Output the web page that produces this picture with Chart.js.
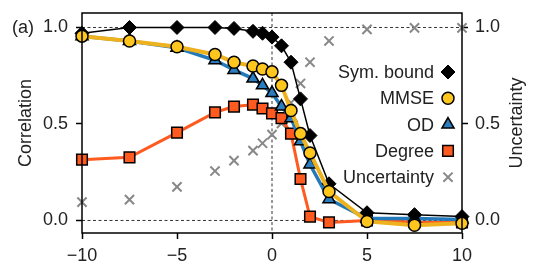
<!DOCTYPE html>
<html>
<head>
<meta charset="utf-8">
<script src="https://cdn.jsdelivr.net/npm/chart.js@4"></script>
<style>
  html, body { margin: 0; padding: 0; background: #fff; }
  #wrap { width: 538px; height: 266px; position: relative; }
</style>
</head>
<body>
<div id="wrap"><canvas id="c" width="538" height="266"></canvas></div>
<script>
// ---- data ----
const xValues = [-10, -7.5, -5, -3, -2, -1, -0.5, 0, 0.5, 1, 1.5, 2, 3, 5, 7.5, 10];
const symBound = [0.97, 1.0, 1.0, 1.0, 0.995, 0.98, 0.97, 0.95, 0.905, 0.82, 0.63, 0.44, 0.19, 0.04, 0.03, 0.02];
const mmse = [0.955, 0.93, 0.90, 0.86, 0.82, 0.80, 0.785, 0.77, 0.70, 0.57, 0.45, 0.35, 0.15, -0.005, -0.025, -0.015];
const od = [0.955, 0.93, 0.895, 0.83, 0.78, 0.735, 0.70, 0.66, 0.59, 0.53, 0.41, 0.29, 0.11, 0.01, 0.01, 0.005];
const degree = [0.315, 0.327, 0.455, 0.56, 0.59, 0.60, 0.58, 0.555, 0.53, 0.45, 0.215, 0.02, -0.01, 0.0, -0.008, -0.01];
const uncertainty = [0.095, 0.108, 0.174, 0.256, 0.31, 0.362, 0.40, 0.445, 0.503, 0.61, 0.71, 0.82, 0.93, 0.99, 0.998, 0.998];

const xTicks = [-10, -5, 0, 5, 10];
const yTicks = [0, 0.5, 1];
const refLinesY = [0, 1];
const refLinesX = [0];
const seriesNames = ['Sym. bound', 'MMSE', 'OD', 'Degree', 'Uncertainty'];
const panelLabel = '(a)';
const leftTitle = 'Correlation';
const rightTitle = 'Uncertainty';

const FONT = '"Liberation Sans", Arial, sans-serif';
const FS = 18;
const TXT = '#222';

const pts = arr => xValues.map((x, i) => ({ x, y: arr[i] }));

const datasets = [
  { label: 'MMSE', data: pts(mmse), borderColor: '#EDB21E', borderWidth: 4,
    pointStyle: 'circle', pointRadius: 6, pointBackgroundColor: '#FFC61E',
    pointBorderColor: '#000', pointBorderWidth: 1.5, yAxisID: 'y' },
  { label: 'Sym. bound', data: pts(symBound), borderColor: '#000', borderWidth: 1.5,
    pointStyle: 'rectRot', pointRadius: 7, pointBackgroundColor: '#000',
    pointBorderColor: '#000', pointBorderWidth: 1, yAxisID: 'y' },
  { label: 'OD', data: pts(od), borderColor: '#2479B8', borderWidth: 3.5,
    pointStyle: 'triangle', pointRadius: 7, pointBackgroundColor: '#2A7DBE',
    pointBorderColor: '#000', pointBorderWidth: 1.5, yAxisID: 'y' },
  { label: 'Degree', data: pts(degree), borderColor: '#FF5A1F', borderWidth: 3,
    pointStyle: 'rect', pointRadius: 7.5, pointBackgroundColor: '#FF5A1F',
    pointBorderColor: '#000', pointBorderWidth: 1.5, yAxisID: 'y' },
  { label: 'Uncertainty', data: pts(uncertainty), showLine: false, borderColor: '#888',
    pointStyle: 'crossRot', pointRadius: 6.5, pointBackgroundColor: '#888',
    pointBorderColor: '#888', pointBorderWidth: 2, yAxisID: 'y2' }
];
datasets.forEach(d => { d.clip = false; d.tension = 0; d.fill = false; d.pointHoverRadius = d.pointRadius; });

const framePlugin = {
  id: 'frame',
  beforeDatasetsDraw(chart) {
    const { ctx, chartArea: a, scales } = chart;
    ctx.save();
    ctx.strokeStyle = '#333';
    ctx.lineWidth = 1;
    ctx.setLineDash([3, 2.5]);
    refLinesY.forEach(v => {
      const y = scales.y.getPixelForValue(v);
      ctx.beginPath(); ctx.moveTo(a.left, y); ctx.lineTo(a.right, y); ctx.stroke();
    });
    refLinesX.forEach(v => {
      const x = scales.x.getPixelForValue(v);
      ctx.beginPath(); ctx.moveTo(x, a.top); ctx.lineTo(x, a.bottom); ctx.stroke();
    });
    ctx.restore();
  },
  afterDraw(chart) {
    const { ctx, chartArea: a } = chart;
    ctx.save();
    ctx.strokeStyle = '#000';
    ctx.lineWidth = 1.5;
    ctx.setLineDash([]);
    ctx.strokeRect(a.left, a.top, a.right - a.left, a.bottom - a.top);

    ctx.fillStyle = TXT;
    ctx.font = FS + 'px ' + FONT;
    ctx.textBaseline = 'middle';

    // panel label
    ctx.textAlign = 'left';
    ctx.fillText(panelLabel, 12, chart.scales.y.getPixelForValue(1) + 1);

    // axis titles (both read bottom-to-top)
    const cy = (a.top + a.bottom) / 2;
    ctx.textAlign = 'center';
    [[leftTitle, 26], [rightTitle, 517]].forEach(([t, x]) => {
      ctx.save();
      ctx.translate(x, cy);
      ctx.rotate(-Math.PI / 2);
      ctx.fillText(t, 0, 0);
      ctx.restore();
    });

    // legend (text then marker on the right)
    const textRight = a.right - 28;
    const markerX = a.right - 14;
    seriesNames.forEach((name, i) => {
      const ds = chart.data.datasets.find(d => d.label === name);
      const y = a.top + 59 + i * 26.3;
      ctx.fillStyle = TXT;
      ctx.textAlign = 'right';
      ctx.textBaseline = 'middle';
      ctx.font = FS + 'px ' + FONT;
      ctx.fillText(name, textRight, y + 1);
      ctx.fillStyle = ds.pointBackgroundColor;
      ctx.strokeStyle = ds.pointBorderColor;
      ctx.lineWidth = ds.pointBorderWidth;
      Chart.helpers.drawPoint(ctx, { pointStyle: ds.pointStyle, radius: ds.pointRadius, rotation: 0, borderWidth: ds.pointBorderWidth }, markerX, y);
    });
    ctx.restore();
  }
};

const tickFont = { family: FONT, size: FS };
const gridCommon = { drawOnChartArea: false, drawTicks: true, tickLength: 6, tickColor: '#000', tickWidth: 1.5, color: '#000' };
const zeroPad = s => { s.paddingTop = 0; s.paddingBottom = 0; s.paddingLeft = 0; s.paddingRight = 0; };

new Chart(document.getElementById('c'), {
  type: 'line',
  data: { datasets },
  plugins: [framePlugin],
  options: {
    responsive: false,
    animation: false,
    events: [],
    layout: { padding: { top: 13, left: 0, right: 0, bottom: 0 } },
    plugins: { legend: { display: false }, tooltip: { enabled: false } },
    scales: {
      x: {
        type: 'linear', min: -10, max: 10,
        afterBuildTicks: s => { s.ticks = xTicks.map(v => ({ value: v })); },
        afterFit: s => { s.height = 33; zeroPad(s); },
        ticks: { font: tickFont, color: TXT, padding: 6, maxRotation: 0,
          callback: v => (v < 0 ? '\u2212' + Math.abs(v) : String(v)) },
        grid: gridCommon,
        border: { display: false }
      },
      y: {
        type: 'linear', position: 'left', min: -0.065, max: 1.075,
        afterBuildTicks: s => { s.ticks = yTicks.map(v => ({ value: v })); },
        afterFit: s => { s.width = 82; zeroPad(s); },
        ticks: { font: tickFont, color: TXT, padding: 8, callback: v => Number(v).toFixed(1) },
        grid: gridCommon,
        border: { display: false }
      },
      y2: {
        type: 'linear', position: 'right', min: -0.065, max: 1.075,
        afterBuildTicks: s => { s.ticks = yTicks.map(v => ({ value: v })); },
        afterFit: s => { s.width = 76; zeroPad(s); },
        ticks: { font: tickFont, color: TXT, padding: 7, callback: v => Number(v).toFixed(1) },
        grid: gridCommon,
        border: { display: false }
      }
    }
  }
});
</script>
</body>
</html>
